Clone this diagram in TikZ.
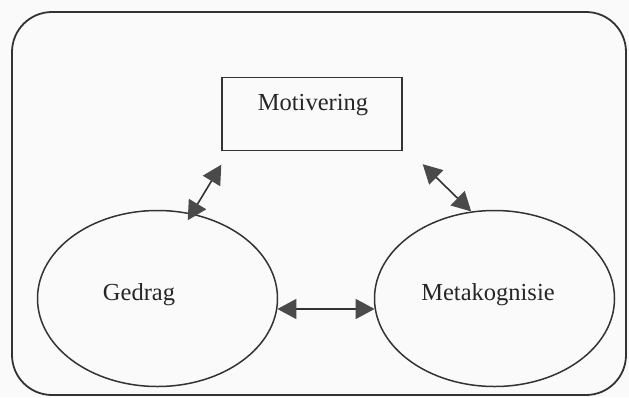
\documentclass[tikz,border=0pt]{standalone}
\usepackage{fontspec}
\setmainfont{Liberation Serif}
\usetikzlibrary{shapes.geometric,arrows.meta,calc}
\definecolor{ink}{HTML}{333333}
\definecolor{head}{HTML}{4A4A4A}
\definecolor{paper}{HTML}{FAFAFA}
\tikzset{
  frame/.style={draw=ink,line width=1.8pt,rounded corners=40pt},
  box/.style={draw=ink,line width=1.4pt,rectangle,minimum width=180pt,minimum height=73pt,inner sep=0pt},
  oval/.style={draw=ink,line width=1.5pt,ellipse,minimum width=240pt,minimum height=176pt,inner sep=0pt},
  txt/.style={font=\fontsize{24.5}{28}\selectfont,text=black!85,inner sep=0pt},
  dbl/.style={draw=ink,line width=1.6pt,{Triangle[length=19pt,width=20pt,color=head]}-{Triangle[length=19pt,width=20pt,color=head]}}
}
\begin{document}
\begin{tikzpicture}[x=1pt,y=-1pt]
\useasboundingbox (0,0) rectangle (629,397);
\fill[paper] (0,0) rectangle (629,397);
\draw[frame] (12,12) rectangle (626,395);
\node[box] (mot) at (312,114) {};
\node[txt] (motlabel) at (313,105) {Motivering};
\node[oval] (ged) at (157.5,298.5) {};
\node[txt] (gedlabel) at (139,295) {Gedrag};
\node[oval] (meta) at (494.5,298.5) {};
\node[txt] (metalabel) at (488,295) {Metakognisie};
\draw[dbl] (ged.-5.5) -- (meta.185.5);
\draw[dbl,shorten <=-8pt] (ged.68.3) -- ($(mot.south west)+(0,13.5)$);
\draw[dbl] ($(mot.south east)+(20,13)$) -- (meta.105.9);
\end{tikzpicture}
\end{document}
